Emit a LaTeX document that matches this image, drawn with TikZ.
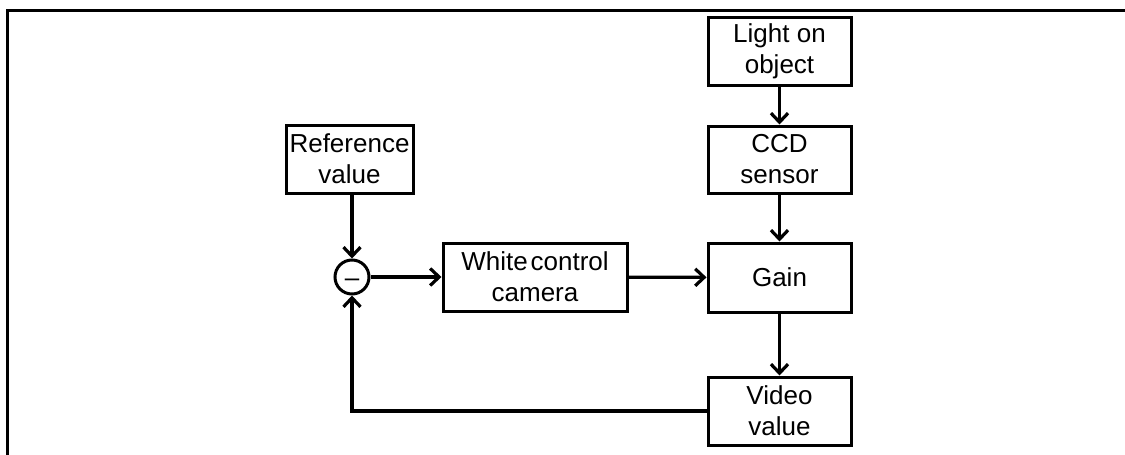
\documentclass[tikz,border=0pt]{standalone}
\usepackage{fontspec}
\setmainfont{Liberation Sans}
\usetikzlibrary{arrows.meta}
\begin{document}
\begin{tikzpicture}[x=1pt,y=-1pt,
  blk/.style={draw,line width=3pt,inner sep=0pt,align=center,
    font=\fontsize{26}{31}\selectfont},
  conn/.style={line width=3.2pt,-{Straight Barb[length=9pt,width=17pt,line width=3.2pt]}},
  frameline/.style={line width=3pt}]
  \useasboundingbox (0,0) rectangle (1125,455);
  % outer frame (open at the right and bottom)
  \coordinate (fbl) at (7,455);
  \coordinate (ftl) at (7,10);
  \coordinate (ftr) at (1125,10);
  \draw[frameline] (fbl) -- (ftl) -- (ftr);

  % blocks
  \node[blk,minimum width=127pt,minimum height=68pt] (ref) at (349.5,159) {Reference\\value};
  \node[blk,minimum width=143pt,minimum height=68pt] (light) at (779.5,51) {Light on\\object};
  \node[blk,minimum width=143pt,minimum height=67pt] (ccd) at (779.5,159.5) {CCD\\sensor};
  \node[blk,minimum width=143pt,minimum height=69pt] (gain) at (779.5,277.5) {Gain};
  \node[blk,minimum width=143pt,minimum height=68pt] (video) at (779.5,411) {Video\\value};
  \node[blk,minimum width=184pt,minimum height=68pt] (wcc) at (535,277) {White\hspace{3pt}control\\camera};
  % summing junction
  \node[draw,circle,line width=3pt,minimum size=34pt,inner sep=0pt] (sum) at (352,277) {};
  \node[font=\fontsize{26}{26}\selectfont,inner sep=0pt] (minus) at (352,283) {–};

  % signal flow
  \draw[conn] (ref.south -| sum.north) -- (sum.north);
  \draw[conn] (light) -- (ccd);
  \draw[conn] (ccd) -- (gain);
  \draw[conn] (gain) -- (video);
  \draw[conn] (sum) -- (wcc);
  \draw[conn] (wcc) -- (gain);
  \draw[conn] (video.west) -| (sum.south);
\end{tikzpicture}
\end{document}
